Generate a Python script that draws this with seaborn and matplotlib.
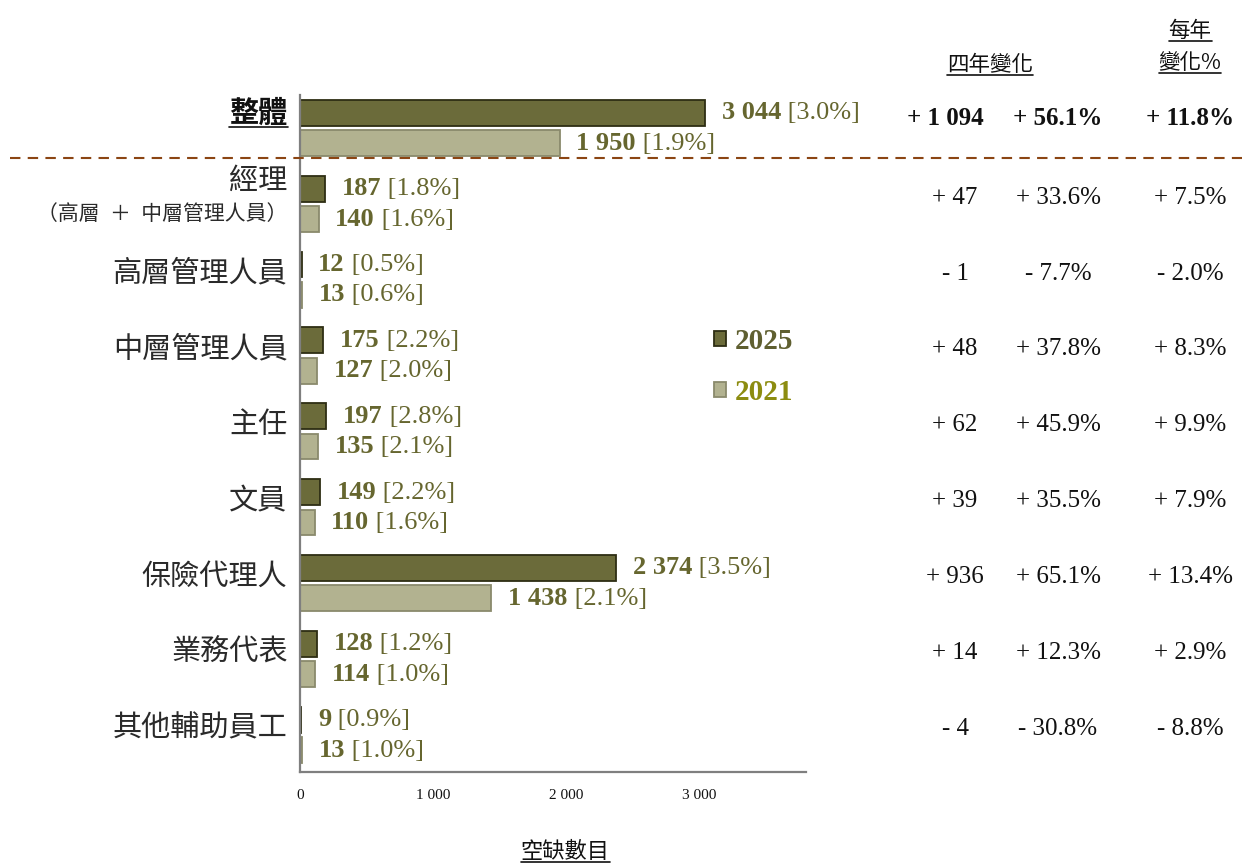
import matplotlib
matplotlib.use('Agg')
import matplotlib.pyplot as plt
import seaborn as sns
import pandas as pd
from matplotlib.transforms import blended_transform_factory
from matplotlib.lines import Line2D
from matplotlib.patches import Patch

# ---------------- data ----------------
categories = ['整體', '經理', '高層管理人員', '中層管理人員', '主任', '文員',
              '保險代理人', '業務代表', '其他輔助員工']
v2025 = [3044, 187, 12, 175, 197, 149, 2374, 128, 9]
p2025 = [3.0, 1.8, 0.5, 2.2, 2.8, 2.2, 3.5, 1.2, 0.9]
v2021 = [1950, 140, 13, 127, 135, 110, 1438, 114, 13]
p2021 = [1.9, 1.6, 0.6, 2.0, 2.1, 1.6, 2.1, 1.0, 1.0]
change4 = ['+ 1 094', '+ 47', '- 1', '+ 48', '+ 62', '+ 39', '+ 936', '+ 14', '- 4']
change4_pct = ['+ 56.1%', '+ 33.6%', '- 7.7%', '+ 37.8%', '+ 45.9%', '+ 35.5%',
               '+ 65.1%', '+ 12.3%', '- 30.8%']
annual_pct = ['+ 11.8%', '+ 7.5%', '- 2.0%', '+ 8.3%', '+ 9.9%', '+ 7.9%',
              '+ 13.4%', '+ 2.9%', '- 8.8%']
years = ['2025', '2021']
xticks = [0, 1000, 2000, 3000]
xtick_labels = ['0', '1 000', '2 000', '3 000']

# ---------------- style ----------------
sns.set_theme(style='white')
plt.rcParams['font.family'] = ['Noto Sans CJK TC', 'DejaVu Sans']
SERIF = 'Liberation Serif'
C25, C21 = '#6b6b3a', '#b2b290'
E25, E21 = '#2e2e14', '#8a8a6c'
TXT = '#66662f'

W, H = 1242, 864
fig = plt.figure(figsize=(W / 100, H / 100), dpi=100)
ax = fig.add_axes([300 / W, 1 - 772 / H, 506 / W, (772 - 95) / H])

df = pd.DataFrame({'cat': categories * 2,
                   'year': [years[0]] * len(categories) + [years[1]] * len(categories),
                   'value': v2025 + v2021})
sns.barplot(data=df, y='cat', x='value', hue='year', hue_order=years,
            palette={years[0]: C25, years[1]: C21}, orient='h', width=0.8, gap=0.15,
            saturation=1, legend=False, ax=ax)

for cont, ec in zip(ax.containers, [E25, E21]):
    for bar in cont:
        bar.set_edgecolor(ec)
        bar.set_linewidth(1.3)

ax.set_xlim(0, 3800)
ax.set_ylim(8.49, -0.435)
ax.set_xticks(xticks)
ax.set_xticklabels(xtick_labels, family=SERIF, fontsize=11, color='#111111')
ax.set_yticks([])
ax.set_xlabel('')
ax.set_ylabel('')
for s in ['top', 'right']:
    ax.spines[s].set_visible(False)
for s in ['left', 'bottom']:
    ax.spines[s].set_color('#7f7f7f')
    ax.spines[s].set_linewidth(1.6)
ax.tick_params(axis='x', direction='in', length=5, width=1.2, color='#7f7f7f', pad=12)

# value labels
for cont, vals, pcts in zip(ax.containers, [v2025, v2021], [p2025, p2021]):
    for bar, v, p in zip(cont, vals, pcts):
        x = bar.get_width()
        y = bar.get_y() + bar.get_height() / 2
        t1 = ax.annotate(f'{v:,}'.replace(',', ' '), xy=(x, y), xytext=(12, 0),
                         textcoords='offset points', ha='left', va='center',
                         fontsize=19, fontweight='bold', family=SERIF, color=TXT)
        ax.annotate(f' [{p:.1f}%]', xy=(1, 0), xycoords=t1, ha='left', va='bottom',
                    fontsize=19, family=SERIF, color=TXT)

# category labels
lab_tr = blended_transform_factory(ax.transAxes, ax.transData)
underline = []
LBL = '#2a2a2a'
for i, c in enumerate(categories):
    if i == 0:
        t = ax.annotate(c, xy=(0, i - 0.2), xycoords=lab_tr, xytext=(-9, 0),
                        textcoords='offset points', ha='right', va='center',
                        fontsize=21, fontweight='bold', color='#111111')
        underline.append(t)
    elif c == '經理':
        ax.annotate(c, xy=(0, i - 0.3), xycoords=lab_tr, xytext=(-9, 0),
                    textcoords='offset points', ha='right', va='center',
                    fontsize=21, color=LBL)
        ax.annotate('（高層\u2002＋\u2002中層管理人員）', xy=(0, i + 0.13), xycoords=lab_tr,
                    xytext=(-9, 0), textcoords='offset points', ha='right',
                    va='center', fontsize=15, color=LBL)
    else:
        ax.annotate(c, xy=(0, i - 0.08), xycoords=lab_tr, xytext=(-9, 0),
                    textcoords='offset points', ha='right', va='center',
                    fontsize=21, color=LBL)

# right-hand columns
rt = blended_transform_factory(fig.transFigure, ax.transData)
col_x = [955 / W, 1058 / W, 1190 / W]
for i in range(len(categories)):
    bold = (i == 0)
    yy = i - 0.13 if bold else i - 0.08
    xs = [945 / W, col_x[1], col_x[2]] if bold else col_x
    for xx, s in zip(xs, [change4[i], change4_pct[i], annual_pct[i]]):
        ax.text(xx, yy, s, transform=rt, ha='center', va='center', family=SERIF,
                fontsize=18, fontweight='bold' if bold else 'normal', color='#111111')

# headers
h1 = fig.text(990 / W, 1 - 65 / H, '四年變化', ha='center', va='center', fontsize=15.5, color='#111111')
h2 = fig.text(1190 / W, 1 - 31 / H, '每年', ha='center', va='center', fontsize=15.5, color='#111111')
h3 = fig.text(1190 / W, 1 - 63 / H, '變化%', ha='center', va='center', fontsize=15.5, color='#111111')
xl = fig.text(565 / W, 1 - 851 / H, '空缺數目', ha='center', va='center', fontsize=16, color='#111111')
underline += [h1, h2, h3, xl]

# dashed separator
fig.add_artist(Line2D([10 / W, 1], [0.395, 0.395], transform=rt, color='#8B4513',
                      lw=1.5, ls=(0, (5, 3.5)), clip_on=False))

# legend
handles = [Patch(facecolor=C25, edgecolor=E25, lw=1.3), Patch(facecolor=C21, edgecolor=E21, lw=1.3)]
ax.legend(handles=handles, labels=years, loc='upper left',
          bbox_to_anchor=(714 / W, 1 - 328 / H), bbox_transform=fig.transFigure,
          frameon=False, prop={'family': SERIF, 'weight': 'bold', 'size': 21},
          labelcolor=['#5f5f30', '#8c8c10'], handlelength=0.42, handleheight=0.42,
          handletextpad=0.3, labelspacing=0.82, borderpad=0, borderaxespad=0)

# underlines
fig.canvas.draw()
for t in underline:
    bb = t.get_window_extent()
    yy = (bb.y0 + 1) / H
    fig.add_artist(Line2D([bb.x0 / W, bb.x1 / W], [yy, yy], transform=fig.transFigure,
                          color='#111111', lw=1.2))

fig.savefig('out.png', dpi=100)
